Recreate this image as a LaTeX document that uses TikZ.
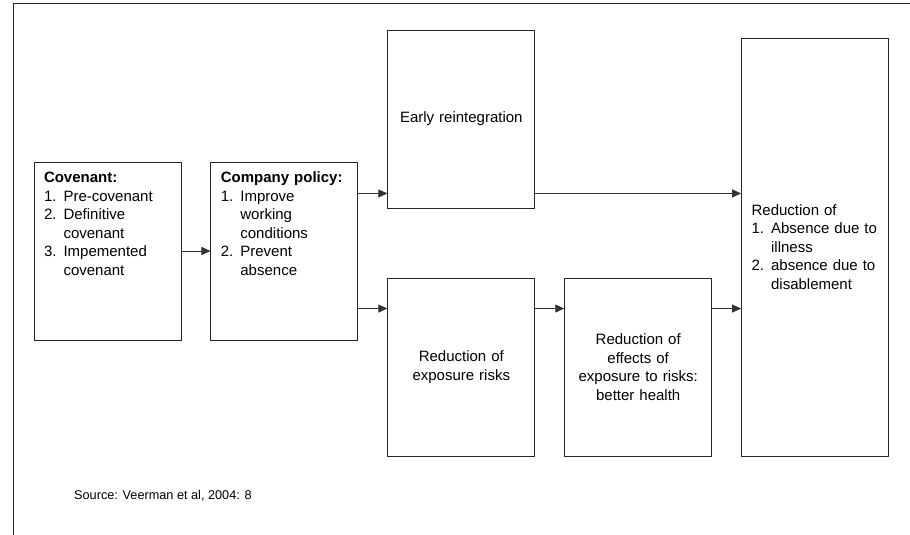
\documentclass[tikz,border=0pt]{standalone}
\usepackage{fontspec}
\setmainfont{Liberation Sans}
\usepackage{tikz}
\usetikzlibrary{arrows.meta,positioning}

\newcommand{\itemno}[1]{\makebox[19.5pt][l]{#1}}
\newcommand{\itemgap}{\hspace*{19.5pt}}

\begin{document}
\begin{tikzpicture}[
        node distance=29pt,
        box/.style={draw=black!85, line width=0.9pt, rectangle, minimum width=147pt, minimum height=178pt, inner sep=10pt, text width=127pt, align=center, font=\fontsize{15pt}{18.5pt}\selectfont},
        topbox/.style={box, align=left, text height=11pt, text depth=147pt},
        link/.style={draw=black!80, line width=0.9pt, -{Triangle[length=9pt,width=8pt]}}
      ]
        \useasboundingbox (0,0) rectangle (910pt,535pt);
        \draw[black!85, line width=0.9pt] (13pt,0) -- (13pt,531.5pt) -- (910pt,531.5pt);

        \node[topbox] (cov) at (107.5pt,284pt) {\textbf{Covenant:}\\
          \itemno{1.}Pre-covenant\\
          \itemno{2.}Definitive\\
          \itemgap covenant\\
          \itemno{3.}Impemented\\
          \itemgap covenant};
        \node[topbox, right=of cov] (pol) {\textbf{Company policy:}\\
          \itemno{1.}Improve\\
          \itemgap working\\
          \itemgap conditions\\
          \itemno{2.}Prevent\\
          \itemgap absence};
        \node[box, right=of pol, yshift=132pt] (early) {Early reintegration};
        \node[box, right=of pol, yshift=-116pt] (expo) {Reduction of\\ exposure risks};
        \node[box, right=of expo] (eff) {Reduction of\\ effects of\\ exposure to risks:\\ better health};
        \node[box, right=of eff.south east, anchor=south west, minimum height=418pt, align=left] (red) {Reduction of\\
          \itemno{1.}\mbox{Absence due to}\\
          \itemgap illness\\
          \itemno{2.}\mbox{absence due to}\\
          \itemgap disablement};

        \node[anchor=west, inner sep=0pt, font=\fontsize{12.7pt}{15pt}\selectfont] (src) at (74pt,39pt) {Source: Veerman et al, 2004: 8};

        \coordinate (up) at ([yshift=15pt]early.south west);
        \coordinate (lo) at ([yshift=-31pt]expo.north west);

        \draw[link] (cov) -- (pol);
        \draw[link] (pol.east |- up) -- (up);
        \draw[link] (early.east |- up) -- (red.west |- up);
        \draw[link] (pol.east |- lo) -- (lo);
        \draw[link] (expo.east |- lo) -- (eff.west |- lo);
        \draw[link] (eff.east |- lo) -- (red.west |- lo);
      \end{tikzpicture}
\end{document}
